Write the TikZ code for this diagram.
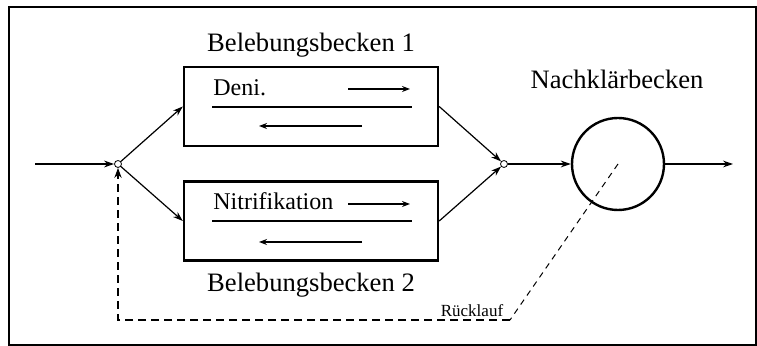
\documentclass[tikz,border=0pt]{standalone}
\usepackage{fontspec}
\setmainfont{Liberation Serif}
\usetikzlibrary{arrows.meta}
\begin{document}
\begin{tikzpicture}[x=0.5pt,y=-0.5pt,
  conn/.style={line width=0.6pt,-{Stealth[length=5pt,width=3.4pt]}},
  basin/.style={draw,line width=1.2pt,minimum width=127pt,minimum height=39.5pt,inner sep=0pt},
  junc/.style={circle,draw,fill=white,line width=0.4pt,minimum size=3.5pt,inner sep=0pt},
  clar/.style={circle,draw,line width=1.2pt,minimum size=46pt,inner sep=0pt},
  title/.style={font=\fontsize{13.3}{15}\selectfont,anchor=base,inner sep=0pt},
  inner/.style={font=\fontsize{12}{14}\selectfont,anchor=base west,inner sep=0pt},
  small/.style={font=\fontsize{8.5}{10}\selectfont,anchor=base,inner sep=0pt},
  flow/.style={line width=0.6pt,-{Stealth[length=4pt,width=3pt]}},
  sep/.style={line width=0.6pt},
  ret/.style={line width=1pt,dash pattern=on 4pt off 2.5pt,-{Stealth[length=5pt,width=3.6pt]}},
  retthin/.style={line width=0.5pt,dash pattern=on 3pt off 2.5pt}]
\useasboundingbox (0,0) rectangle (757,346);
% frame
\draw[line width=1pt] (9,7) rectangle (756,345);

% nodes
\node[basin] (b1) at (311,106.5) {};
\node[basin] (b2) at (311,221) {};
\node[junc] (j1) at (118,164) {};
\node[junc] (j2) at (504,164) {};
\node[clar] (nk) at (618,164) {};

\node[title] (t1) at (311,52) {Belebungsbecken 1};
\node[title] (t2) at (311,292) {Belebungsbecken 2};
\node[title] (t3) at (617,89) {Nachklärbecken};

\node[inner] (deni) at (213,96) {Deni.};
\node[inner] (nitri) at (213,210) {Nitrifikation};
\node[small] (rl) at (472,317) {Rücklauf};

% inside basin 1
\coordinate (a1s) at (348,89);  \coordinate (a1e) at (410,89);
\coordinate (l1s) at (212,107); \coordinate (l1e) at (412,107);
\coordinate (r1s) at (362,126); \coordinate (r1e) at (259,126);
\draw[flow] (a1s) -- (a1e);
\draw[sep] (l1s) -- (l1e);
\draw[flow] (r1s) -- (r1e);
% inside basin 2
\coordinate (a2s) at (348,204);  \coordinate (a2e) at (410,204);
\coordinate (l2s) at (212,221); \coordinate (l2e) at (412,221);
\coordinate (r2s) at (362,242); \coordinate (r2e) at (259,242);
\draw[flow] (a2s) -- (a2e);
\draw[sep] (l2s) -- (l2e);
\draw[flow] (r2s) -- (r2e);

% connectors
\coordinate (in) at (35,164);
\coordinate (out) at (733,164);
\draw[conn] (in) -- (j1);
\draw[conn] (j1) -- (b1.west);
\draw[conn] (j1) -- (b2.west);
\draw[conn] (b1.east) -- (j2);
\draw[conn] (b2.east) -- (j2);
\draw[conn] (j2) -- (nk);
\draw[conn] (nk) -- (out);

% return flow
\coordinate (c1) at (510,320);
\coordinate (c2) at (118,320);
\draw[retthin] (nk.center) -- (c1);
\draw[ret] (c1) -- (c2) -- (j1);
\end{tikzpicture}
\end{document}
